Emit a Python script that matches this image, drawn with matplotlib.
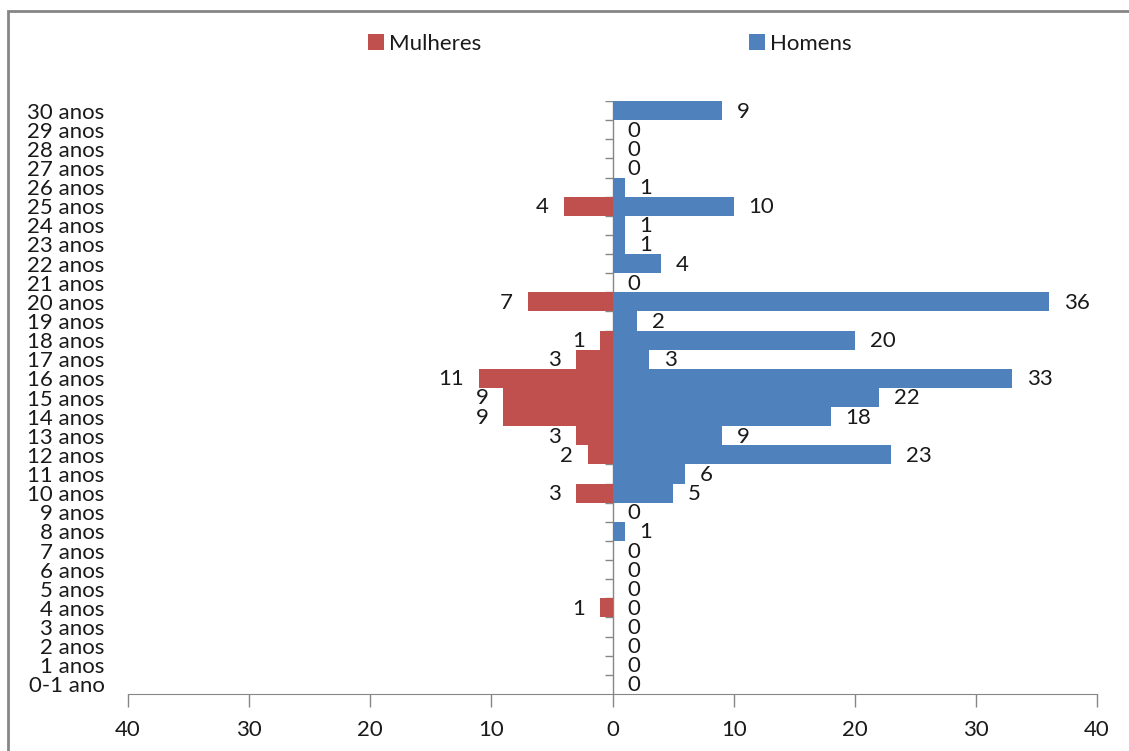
import matplotlib.pyplot as plt
from matplotlib.patches import Rectangle
import numpy as np

plt.rcParams['font.family'] = ['Lato', 'DejaVu Sans']

# faixas etárias, de baixo para cima
idades = ["0-1 ano"] + ["%d anos" % i for i in range(1, 31)]

homens = [0, 0, 0, 0, 0, 0, 0, 0, 1, 0,
          5, 6, 23, 9, 18, 22, 33, 3, 20, 2,
          36, 0, 4, 1, 1, 10, 1, 0, 0, 0, 9]

mulheres = [0, 0, 0, 0, 1, 0, 0, 0, 0, 0,
            3, 0, 2, 3, 9, 9, 11, 3, 1, 0,
            7, 0, 0, 0, 0, 4, 0, 0, 0, 0, 0]

marcas_x = [-40, -30, -20, -10, 0, 10, 20, 30, 40]

cor_m = '#C0504D'
cor_h = '#4F81BD'
cinza = '#868686'
texto = '#1a1a1a'
tam = 16

fig = plt.figure(figsize=(11.29, 7.51), dpi=100)
ax = fig.add_axes([128 / 1129, 57 / 751, 969 / 1129, 593 / 751])

y = np.arange(len(idades))
mulheres = np.array(mulheres)
homens = np.array(homens)

ax.barh(y, -mulheres, height=1.0, color=cor_m, label='Mulheres')
ax.barh(y, homens, height=1.0, color=cor_h, label='Homens')

# rótulos de dados
for i in range(len(idades)):
    ax.annotate(str(homens[i]), (homens[i], y[i]), xytext=(15, -1),
                textcoords='offset pixels', ha='left', va='center',
                fontsize=tam, color=texto)
    if mulheres[i] > 0:
        ax.annotate(str(mulheres[i]), (-mulheres[i], y[i]), xytext=(-15, -1),
                    textcoords='offset pixels', ha='right', va='center',
                    fontsize=tam, color=texto)

ax.set_xlim(-40, 40)
ax.set_ylim(-0.5, len(idades) - 0.5)

ax.set_xticks(marcas_x)
ax.set_xticklabels([str(abs(v)) for v in marcas_x])
ax.set_yticks(y)
ax.set_yticklabels(idades)

ax.tick_params(axis='y', length=0, pad=17, labelsize=tam, labelcolor=texto)
ax.tick_params(axis='x', direction='out', length=9, width=1, color=cinza,
               pad=10, labelsize=tam, labelcolor=texto)

for lado in ['left', 'top', 'right']:
    ax.spines[lado].set_visible(False)
ax.spines['bottom'].set_color(cinza)

# eixo vertical no zero com marcas entre as categorias
ax.axvline(0, color=cinza, lw=1, zorder=0.5)
ax.plot(np.zeros(len(idades)), y + 0.5, linestyle='none', marker=0,
        markersize=6, color=cinza, markeredgewidth=1, zorder=0.5)

leg = fig.legend(loc='center', bbox_to_anchor=(610 / 1129, 1 - 44 / 751),
                 ncol=2, frameon=False, fontsize=tam, handlelength=0.7,
                 handleheight=0.7, handletextpad=0.25, columnspacing=12.05)
for t in leg.get_texts():
    t.set_color(texto)

# moldura da área do gráfico
fig.patches.append(Rectangle((8 / 1129, -0.1), 1.2, 1 - 11 / 751 + 0.1,
                             transform=fig.transFigure, fill=False,
                             edgecolor=cinza, lw=2))

fig.savefig('out.png', dpi=100)
